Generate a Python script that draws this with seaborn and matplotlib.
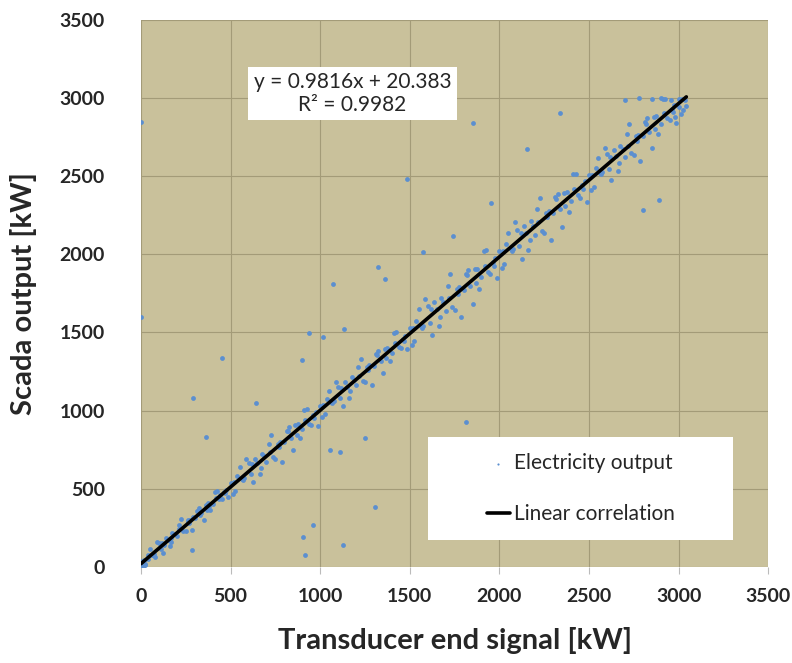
import numpy as np
import pandas as pd
import matplotlib
matplotlib.use("Agg")
import matplotlib.pyplot as plt
import seaborn as sns
from matplotlib.patches import Rectangle

# main cloud (kW)
cloud_x = [
    0, 25, 50, 75, 100, 125, 150, 175, 200, 225, 250, 275, 300, 325, 350, 375, 400, 425, 450, 475,
    500, 525, 550, 575, 600, 625, 650, 675, 700, 725, 750, 775, 800, 825, 850, 875, 900, 925, 950, 975,
    1000, 1025, 1050, 1075, 1100, 1125, 1150, 1175, 1200, 1225, 1250, 1275, 1300, 1325, 1350, 1375, 1400, 1425, 1450, 1475,
    1500, 1525, 1550, 1575, 1600, 1625, 1650, 1675, 1700, 1725, 1750, 1775, 1800, 1825, 1850, 1875, 1900, 1925, 1950, 1975,
    2000, 2025, 2050, 2075, 2100, 2125, 2150, 2175, 2200, 2225, 2250, 2275, 2300, 2325, 2350, 2375, 2400, 2425, 2450, 2475,
    2500, 2525, 2550, 2575, 2600, 2625, 2650, 2675, 2700, 2725, 2750, 2775, 2800, 2825, 2850, 2875, 2900, 2925, 2950, 2975,
    3000, 3025,
    12, 37, 62, 87, 112, 137, 162, 187, 212, 237, 262, 287, 312, 337, 362, 387, 412, 437, 462, 487,
    512, 537, 562, 587, 612, 637, 662, 687, 712, 737, 762, 787, 812, 837, 862, 887, 912, 937, 962, 987,
    1012, 1037, 1062, 1087, 1112, 1137, 1162, 1187, 1212, 1237, 1262, 1287, 1312, 1337, 1362, 1387, 1412, 1437, 1462, 1487,
    1512, 1537, 1562, 1587, 1612, 1637, 1662, 1687, 1712, 1737, 1762, 1787, 1812, 1837, 1862, 1887, 1912, 1937, 1962, 1987,
    2012, 2037, 2062, 2087, 2112, 2137, 2162, 2187, 2212, 2237, 2262, 2287, 2312, 2337, 2362, 2387, 2412, 2437, 2462, 2487,
    2512, 2537, 2562, 2587, 2612, 2637, 2662, 2687, 2712, 2737, 2762, 2787, 2812, 2837, 2862, 2887, 2912, 2937, 2962, 2987,
    3012, 3037,
    18, 68, 118, 168, 218, 268, 318, 368, 418, 468, 518, 568, 618, 668, 718, 768, 818, 868, 918, 968,
    1018, 1068, 1118, 1168, 1218, 1268, 1318, 1368, 1418, 1468, 1518, 1568, 1618, 1668, 1718, 1768, 1818, 1868, 1918, 1968,
    2018, 2068, 2118, 2168, 2218, 2268, 2318, 2368, 2418, 2468, 2518, 2568, 2618, 2668, 2718, 2768, 2818, 2868, 2918, 2968,
    3018,
    5, 20, 40, 80, 130, 170, 210, 260, 290, 330, 380, 440, 285,
    2700, 2780, 2850, 2900, 2960, 3040, 3000, 2980,
]
cloud_y = [
    36, 16, 113, 85, 150, 90, 171, 215, 196, 305, 229, 301, 310, 374, 303, 407, 400, 485, 437, 494,
    538, 486, 636, 570, 664, 541, 664, 724, 671, 842, 692, 801, 797, 892, 748, 912, 881, 1010, 909, 990,
    1028, 975, 1126, 1060, 1154, 1031, 1154, 1214, 1161, 1332, 1182, 1291, 1287, 1382, 1238, 1402, 1371, 1501, 1399, 1480,
    1530, 1445, 1649, 1544, 1668, 1483, 1647, 1722, 1636, 1871, 1645, 1790, 1774, 1899, 1683, 1908, 1852, 2027, 1871, 1976,
    2020, 1935, 2139, 2034, 2158, 1973, 2137, 2212, 2126, 2361, 2135, 2280, 2264, 2389, 2173, 2398, 2342, 2517, 2361, 2466,
    2506, 2431, 2618, 2525, 2640, 2476, 2626, 2695, 2621, 2834, 2634, 2766, 2755, 2870, 2678, 2882, 2835, 2994, 2857, 2954,
    2996, 2921,
    0, 76, 77, 161, 114, 182, 135, 211, 268, 228, 289, 233, 358, 342, 399, 363, 476, 436, 477, 449,
    466, 581, 564, 693, 592, 693, 592, 707, 788, 700, 788, 672, 872, 826, 907, 826, 1005, 917, 970, 903,
    956, 1071, 1054, 1183, 1082, 1183, 1082, 1197, 1278, 1190, 1278, 1162, 1362, 1316, 1397, 1316, 1495, 1407, 1460, 1393,
    1422, 1576, 1541, 1715, 1560, 1694, 1539, 1693, 1798, 1662, 1777, 1601, 1876, 1800, 1905, 1779, 2024, 1888, 1953, 1847,
    1912, 2066, 2031, 2205, 2050, 2184, 2029, 2183, 2288, 2152, 2267, 2091, 2366, 2290, 2395, 2269, 2514, 2378, 2443, 2337,
    2410, 2551, 2522, 2681, 2544, 2667, 2530, 2671, 2768, 2648, 2754, 2598, 2848, 2782, 2879, 2768, 2991, 2871, 2932, 2839,
    2900, 2990,
    47, 75, 154, 161, 240, 280, 359, 366, 442, 470, 543, 557, 656, 635, 734, 768, 867, 846, 940, 954,
    1033, 1047, 1146, 1125, 1224, 1258, 1357, 1336, 1430, 1444, 1529, 1529, 1648, 1599, 1718, 1746, 1865, 1816, 1928, 1928,
    2019, 2019, 2138, 2089, 2208, 2236, 2355, 2306, 2418, 2418, 2506, 2513, 2622, 2587, 2696, 2727, 2836, 2801, 2904, 2911,
    2996,
    5, 15, 50, 60, 140, 185, 240, 300, 320, 330, 390, 460, 110,
    2990, 3000, 2995, 3000, 2990, 2950, 2940, 2880,
]

# isolated points away from the cloud
outlier_x = [0, 0, 1485, 1854, 2155, 2340, 2803, 2892, 1954, 452, 290, 363, 642, 899,
             938, 1307, 1128, 905, 916, 960, 1251, 1072, 1134, 1016, 1111, 1055, 1815,
             1323, 1362, 1742, 1575]
outlier_y = [2847, 1600, 2480, 2840, 2674, 2905, 2284, 2348, 2329, 1337, 1081, 832, 1049, 1324,
             1497, 384, 141, 192, 77, 269, 825, 1811, 1523, 1471, 736, 749, 928,
             1919, 1842, 2118, 2015]

# fitted line as printed on the chart
fit_slope = 0.9816
fit_intercept = 20.383
fit_r2 = 0.9982
fit_x = [0, 3043]

ticks = [0, 500, 1000, 1500, 2000, 2500, 3000, 3500]

sns.set_theme(style="white")
plt.rcParams["font.family"] = ["Lato", "DejaVu Sans"]

df = pd.DataFrame({"x": cloud_x + outlier_x, "y": cloud_y + outlier_y})
fit_y = [fit_slope * v + fit_intercept for v in fit_x]

fig = plt.figure(figsize=(7.92, 6.63), dpi=100)
ax = fig.add_axes([0.178, 0.145, 0.792, 0.825])
ax.set_facecolor("#C9C19B")

sns.scatterplot(data=df, x="x", y="y", ax=ax, s=12, color="#5B8FD0", linewidth=0,
                label="Electricity output", zorder=3)
sns.lineplot(x=fit_x, y=fit_y, ax=ax, color="black", linewidth=2.6,
             label="Linear correlation", zorder=4)

ax.set_xlim(0, 3500)
ax.set_ylim(0, 3500)
ax.set_xticks(ticks)
ax.set_yticks(ticks)
ax.grid(True, color="#A39B78", linewidth=0.8)
ax.set_axisbelow(True)
for s in ax.spines.values():
    s.set_visible(False)
ax.tick_params(axis="x", bottom=True, length=5, color="#BBBBBB", width=0.8, pad=10)
ax.tick_params(axis="y", left=False, pad=20)
for lab in ax.get_xticklabels() + ax.get_yticklabels():
    lab.set_fontweight("bold")
    lab.set_fontsize(14)

ax.set_xlabel("Transducer end signal [kW]", fontsize=21, fontweight="bold", labelpad=16)
ax.set_ylabel("Scada output [kW]", fontsize=21, fontweight="bold", labelpad=16)

ax.text(1180, 3030, f"y = {fit_slope}x + {fit_intercept}\nR² = {fit_r2}",
        ha="center", va="center", fontsize=15, linespacing=1.15, zorder=5,
        bbox=dict(facecolor="white", edgecolor="none", pad=4))

# white legend panel
ax.add_patch(Rectangle((0.458, 0.049), 0.486, 0.188, transform=ax.transAxes,
                       facecolor="white", edgecolor="none", zorder=5))
leg = ax.legend(loc="center", bbox_to_anchor=(0.701, 0.143), frameon=False,
                fontsize=15, labelspacing=1.5, handlelength=1.1,
                handletextpad=0.2, markerscale=0.45)
leg.set_zorder(6)

plt.savefig("out.png", dpi=100)
